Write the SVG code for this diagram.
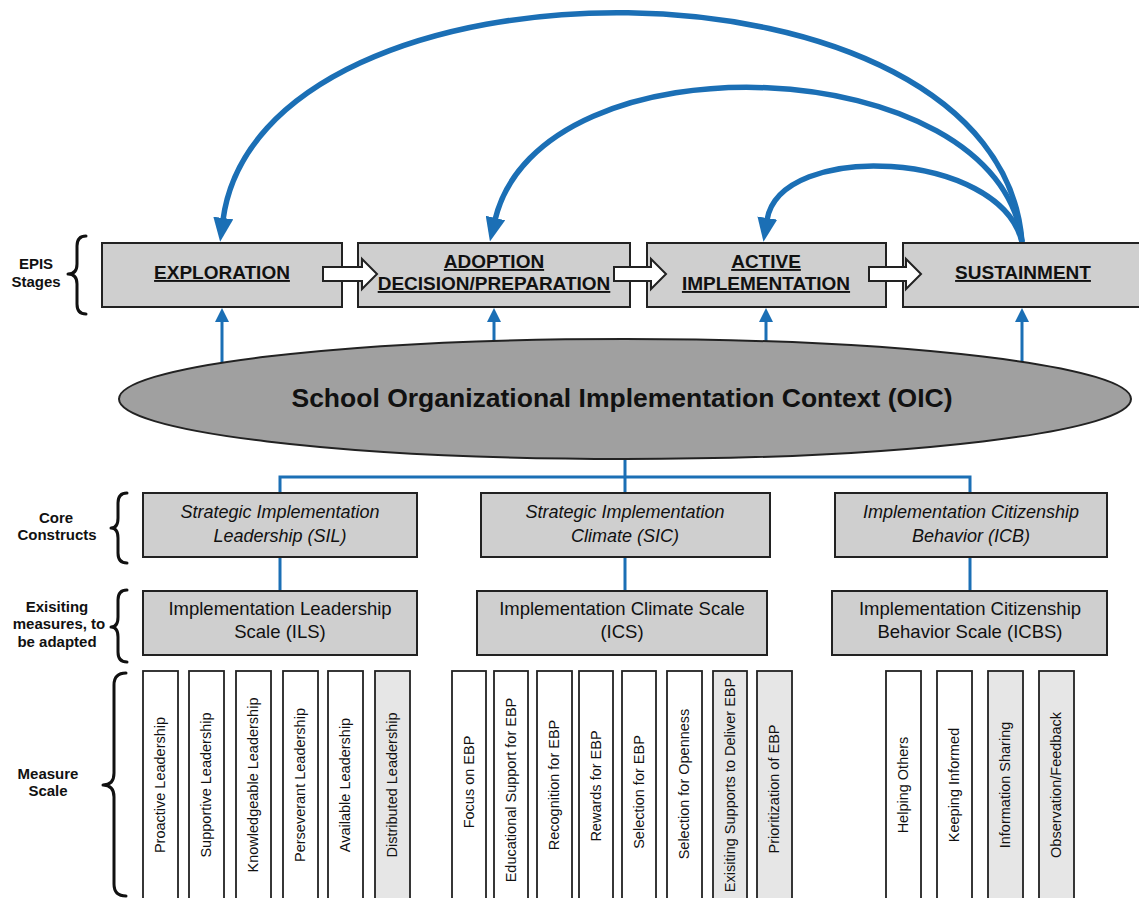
<svg xmlns="http://www.w3.org/2000/svg" width="1139" height="898" viewBox="0 0 1139 898">
<style>
text{font-family:"Liberation Sans",Arial,sans-serif;fill:#111}
.box{fill:#cfcfcf;stroke:#222;stroke-width:2}
.col{fill:#fff;stroke:#222;stroke-width:1.8}
.colg{fill:#e6e6e6;stroke:#222;stroke-width:1.8}
.stage{font-size:19px;font-weight:bold;text-anchor:middle;text-decoration:underline}
.core{font-size:18px;font-style:italic;text-anchor:middle}
.meas{font-size:18.5px;text-anchor:middle}
.lab{font-size:15px;font-weight:bold;text-anchor:middle}
.vt{font-size:14.5px;text-anchor:middle}
.brace{fill:none;stroke:#111;stroke-width:3;stroke-linecap:round;stroke-linejoin:round}
.blue{fill:none;stroke:#1b6fb5;stroke-width:3}
.arc{fill:none;stroke:#1b6fb5;stroke-width:5.5}
.block{fill:#fff;stroke:#222;stroke-width:2}
</style>
<defs>
<marker id="bighead" markerUnits="userSpaceOnUse" markerWidth="24" markerHeight="20" refX="2" refY="10" orient="auto" viewBox="0 0 24 20">
<path d="M0,0 L24,10 L0,20 Z" fill="#1b6fb5"/>
</marker>
<marker id="smallhead" markerUnits="userSpaceOnUse" markerWidth="14" markerHeight="14" refX="2" refY="7" orient="auto" viewBox="0 0 14 14">
<path d="M0,0 L14,7 L0,14 Z" fill="#1b6fb5"/>
</marker>
</defs>

<!-- left labels and braces -->
<g id="label-epis">
<text class="lab" x="36" y="269">EPIS</text>
<text class="lab" x="36" y="287">Stages</text>
<path class="brace" d="M86,236 Q77,236 77,246 L77,264 Q77,274 68,274 Q77,274 77,284 L77,304 Q77,314 86,314"/>
</g>
<g id="label-core">
<text class="lab" x="56" y="523">Core</text>
<text class="lab" x="57" y="540">Constructs</text>
<path class="brace" d="M127,493 Q118,493 118,503 L118,518 Q118,528 111,528 Q118,528 118,538 L118,553 Q118,563 127,563"/>
</g>
<g id="label-existing">
<text class="lab" x="57" y="612">Exisiting</text>
<text class="lab" x="59" y="629">measures, to</text>
<text class="lab" x="57" y="647">be adapted</text>
<path class="brace" d="M127,590 Q118,590 118,600 L118,617 Q118,627 111,627 Q118,627 118,637 L118,652 Q118,662 127,662"/>
</g>
<g id="label-measure">
<text class="lab" x="48" y="779">Measure</text>
<text class="lab" x="48" y="796">Scale</text>
<path class="brace" d="M126,673 Q114,673 114,685 L114,773 Q114,785 103,785 Q114,785 114,797 L114,884 Q114,896 126,896"/>
</g>

<!-- connectors -->
<g id="connectors">
<path class="arc" d="M1022,242 C1000,-60 260,-60 223,220" marker-end="url(#bighead)"/>
<path class="arc" d="M1022,242 C1000,50 540,30 495,220" marker-end="url(#bighead)"/>
<path class="arc" d="M1022,242 C1000,150 780,140 767,220" marker-end="url(#bighead)"/>
<line class="blue" x1="222" y1="362" x2="222" y2="320" marker-end="url(#smallhead)"/>
<line class="blue" x1="494" y1="342" x2="494" y2="320" marker-end="url(#smallhead)"/>
<line class="blue" x1="766" y1="342" x2="766" y2="320" marker-end="url(#smallhead)"/>
<line class="blue" x1="1022" y1="362" x2="1022" y2="320" marker-end="url(#smallhead)"/>
<line class="blue" x1="625" y1="458" x2="625" y2="493"/>
<polyline class="blue" points="280,493 280,477 970,477 970,493"/>
<line class="blue" x1="280" y1="557" x2="280" y2="591"/>
<line class="blue" x1="625" y1="557" x2="625" y2="591"/>
<line class="blue" x1="970" y1="557" x2="970" y2="591"/>
</g>

<!-- EPIS stages -->
<g id="exploration">
<rect class="box" x="102" y="243" width="240" height="64"/>
<text class="stage" x="222" y="279">EXPLORATION</text>
</g>
<g id="adoption">
<rect class="box" x="358" y="243" width="272" height="64"/>
<text class="stage" x="494" y="268">ADOPTION</text>
<text class="stage" x="494" y="290">DECISION/PREPARATION</text>
</g>
<g id="active">
<rect class="box" x="647" y="243" width="239" height="64"/>
<text class="stage" x="766" y="268">ACTIVE</text>
<text class="stage" x="766" y="290">IMPLEMENTATION </text>
</g>
<g id="sustainment">
<rect class="box" x="903" y="243" width="240" height="64"/>
<text class="stage" x="1023" y="279">SUSTAINMENT</text>
</g>
<g id="stage-arrows">
<path class="block" d="M323,267 L362,267 L362,259 L377,274 L362,289 L362,281 L323,281 Z"/>
<path class="block" d="M614,267 L651,267 L651,259 L666,274 L651,289 L651,281 L614,281 Z"/>
<path class="block" d="M869,267 L906,267 L906,259 L921,274 L906,289 L906,281 L869,281 Z"/>
</g>

<!-- OIC ellipse -->
<g id="oic">
<ellipse cx="625" cy="399" rx="506" ry="60" fill="#a0a0a0" stroke="#222" stroke-width="2"/>
<text x="622" y="407" font-size="26.5" font-weight="bold" text-anchor="middle">School Organizational Implementation Context (OIC)</text>
</g>

<!-- core constructs -->
<g id="sil">
<rect class="box" x="143" y="493" width="274" height="64"/>
<text class="core" x="280" y="518">Strategic Implementation</text>
<text class="core" x="280" y="542">Leadership (SIL)</text>
</g>
<g id="sic">
<rect class="box" x="481" y="493" width="289" height="64"/>
<text class="core" x="625" y="518">Strategic Implementation</text>
<text class="core" x="625" y="542">Climate (SIC)</text>
</g>
<g id="icb">
<rect class="box" x="835" y="493" width="272" height="64"/>
<text class="core" x="971" y="518">Implementation Citizenship</text>
<text class="core" x="971" y="542">Behavior (ICB)</text>
</g>

<!-- existing measures -->
<g id="ils">
<rect class="box" x="143" y="591" width="274" height="64"/>
<text class="meas" x="280" y="615">Implementation Leadership</text>
<text class="meas" x="280" y="638">Scale (ILS)</text>
</g>
<g id="ics">
<rect class="box" x="477" y="591" width="290" height="64"/>
<text class="meas" x="622" y="615">Implementation Climate Scale</text>
<text class="meas" x="622" y="638">(ICS)</text>
</g>
<g id="icbs">
<rect class="box" x="832" y="591" width="275" height="64"/>
<text class="meas" x="970" y="615">Implementation Citizenship</text>
<text class="meas" x="970" y="638">Behavior Scale (ICBS)</text>
</g>

<!-- measure scale columns -->
<g id="col-proactive"><rect class="col" x="143" y="671" width="35" height="235"/><text class="vt" transform="translate(165,785) rotate(-90)">Proactive Leadership</text></g>
<g id="col-supportive"><rect class="col" x="189" y="671" width="35" height="235"/><text class="vt" transform="translate(211,785) rotate(-90)">Supportive Leadership</text></g>
<g id="col-knowledgeable"><rect class="col" x="236" y="671" width="35" height="235"/><text class="vt" transform="translate(258,785) rotate(-90)">Knowledgeable Leadership</text></g>
<g id="col-perseverant"><rect class="col" x="283" y="671" width="35" height="235"/><text class="vt" transform="translate(305,785) rotate(-90)">Perseverant Leadership</text></g>
<g id="col-available"><rect class="col" x="328" y="671" width="35" height="235"/><text class="vt" transform="translate(350,785) rotate(-90)">Available Leadership</text></g>
<g id="col-distributed"><rect class="colg" x="375" y="671" width="35" height="235"/><text class="vt" transform="translate(397,785) rotate(-90)">Distributed Leadership</text></g>

<g id="col-focus"><rect class="col" x="452" y="671" width="34" height="235"/><text class="vt" transform="translate(474,782) rotate(-90)">Focus on EBP</text></g>
<g id="col-educational"><rect class="col" x="494" y="671" width="34" height="235"/><text class="vt" transform="translate(516,790) rotate(-90)">Educational Support for EBP</text></g>
<g id="col-recognition"><rect class="col" x="537" y="671" width="35" height="235"/><text class="vt" transform="translate(559,785) rotate(-90)">Recognition for EBP</text></g>
<g id="col-rewards"><rect class="col" x="579" y="671" width="34" height="235"/><text class="vt" transform="translate(601,786) rotate(-90)">Rewards for EBP</text></g>
<g id="col-selection"><rect class="col" x="622" y="671" width="34" height="235"/><text class="vt" transform="translate(644,792) rotate(-90)">Selection for EBP</text></g>
<g id="col-openness"><rect class="col" x="667" y="671" width="35" height="235"/><text class="vt" transform="translate(689,784) rotate(-90)">Selection for Openness</text></g>
<g id="col-existing"><rect class="colg" x="713" y="671" width="34" height="235"/><text class="vt" transform="translate(735,785) rotate(-90)">Exisiting Supports to Deliver EBP</text></g>
<g id="col-prioritization"><rect class="colg" x="757" y="671" width="35" height="235"/><text class="vt" transform="translate(779,789) rotate(-90)">Prioritization of EBP</text></g>

<g id="col-helping"><rect class="col" x="886" y="671" width="35" height="235"/><text class="vt" transform="translate(908,785) rotate(-90)">Helping Others</text></g>
<g id="col-keeping"><rect class="col" x="937" y="671" width="35" height="235"/><text class="vt" transform="translate(959,785) rotate(-90)">Keeping Informed</text></g>
<g id="col-sharing"><rect class="colg" x="988" y="671" width="35" height="235"/><text class="vt" transform="translate(1010,785) rotate(-90)">Information Sharing</text></g>
<g id="col-observation"><rect class="colg" x="1039" y="671" width="35" height="235"/><text class="vt" transform="translate(1061,785) rotate(-90)">Observation/Feedback</text></g>
</svg>
